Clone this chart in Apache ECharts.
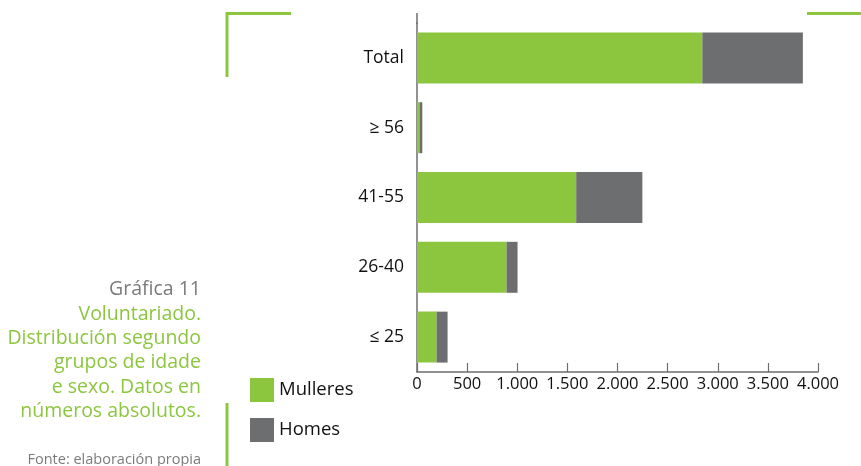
<!DOCTYPE html>
<html><head><meta charset="utf-8">
<script src="https://cdn.jsdelivr.net/npm/echarts@6/dist/echarts.min.js"></script>
<style>html,body{margin:0;padding:0;background:#fff}#c{width:861px;height:466px}</style>
</head><body><div id="c"></div>
<script>
const categories = ['Total', '≥ 56', '41-55', '26-40', '≤ 25'];
const mulleres = [2846, 25, 1588, 893, 195];
const homes = [1003, 28, 660, 110, 110];
const xTicks = [0, 500, 1000, 1500, 2000, 2500, 3000, 3500, 4000];

const GREEN = '#8cc63f', GRAY = '#6d6e70', FONT = '"Open Sans", "Noto Sans", sans-serif';
const chart = echarts.init(document.getElementById('c'), null, {renderer: 'canvas'});
const fmt = v => v.toLocaleString('de-DE');
chart.setOption({
  animation: false,
  grid: {left: 417, right: 43, top: 23, bottom: 94, containLabel: false},
  legend: {
    orient: 'vertical', left: 245, top: 373, itemWidth: 24, itemHeight: 24, itemGap: 16,
    icon: 'rect', textStyle: {fontFamily: FONT, fontSize: 18.5, color: '#111'},
    data: ['Mulleres', 'Homes']
  },
  xAxis: {
    type: 'value', min: xTicks[0], max: xTicks[xTicks.length-1], interval: 500,
    axisLine: {show: true, lineStyle: {color: GRAY, width: 1.5}},
    axisTick: {show: true, inside: true, length: 9, lineStyle: {color: GRAY, width: 1.2}},
    splitLine: {show: false},
    axisLabel: {fontFamily: FONT, fontSize: 16.5, color: '#111', margin: 4, formatter: fmt}
  },
  yAxis: {
    type: 'category', data: categories, inverse: true,
    axisLine: {show: true, lineStyle: {color: GRAY, width: 1.5}},
    axisTick: {show: false},
    axisLabel: {fontFamily: FONT, fontSize: 17.5, color: '#111', margin: 13}
  },
  series: [
    {name: 'Mulleres', type: 'bar', stack: 's', data: mulleres, barCategoryGap: '27%', itemStyle: {color: GREEN}},
    {name: 'Homes', type: 'bar', stack: 's', data: homes, itemStyle: {color: GRAY}}
  ],
  graphic: [
    {type: 'line', shape: {x1: 417, y1: 13, x2: 417, y2: 24}, style: {stroke: GRAY, lineWidth: 1.5}},
    {type: 'polyline', shape: {points: [[227, 77], [227, 13.5], [291, 13.5]]}, style: {stroke: GREEN, lineWidth: 3, fill: null}},
    {type: 'line', shape: {x1: 807, y1: 13.5, x2: 861, y2: 13.5}, style: {stroke: GREEN, lineWidth: 3}},
    {type: 'line', shape: {x1: 227, y1: 403, x2: 227, y2: 466}, style: {stroke: GREEN, lineWidth: 3}},
    {type: 'text', right: 660, top: 279, style: {text: 'Gráfica 11', fill: '#7b7b7d', font: '19.5px ' + FONT, textAlign: 'right'}},
    {type: 'text', right: 660, top: 302, style: {text: 'Voluntariado.\nDistribución segundo\ngrupos de idade\ne sexo. Datos en\nnúmeros absolutos.', fill: GREEN, font: '19.5px ' + FONT, textAlign: 'right', lineHeight: 24.3}},
    {type: 'text', right: 660, top: 452, style: {text: 'Fonte: elaboración propia', fill: '#7b7b7d', font: '14.5px ' + FONT, textAlign: 'right'}}
  ]
});
</script></body></html>
